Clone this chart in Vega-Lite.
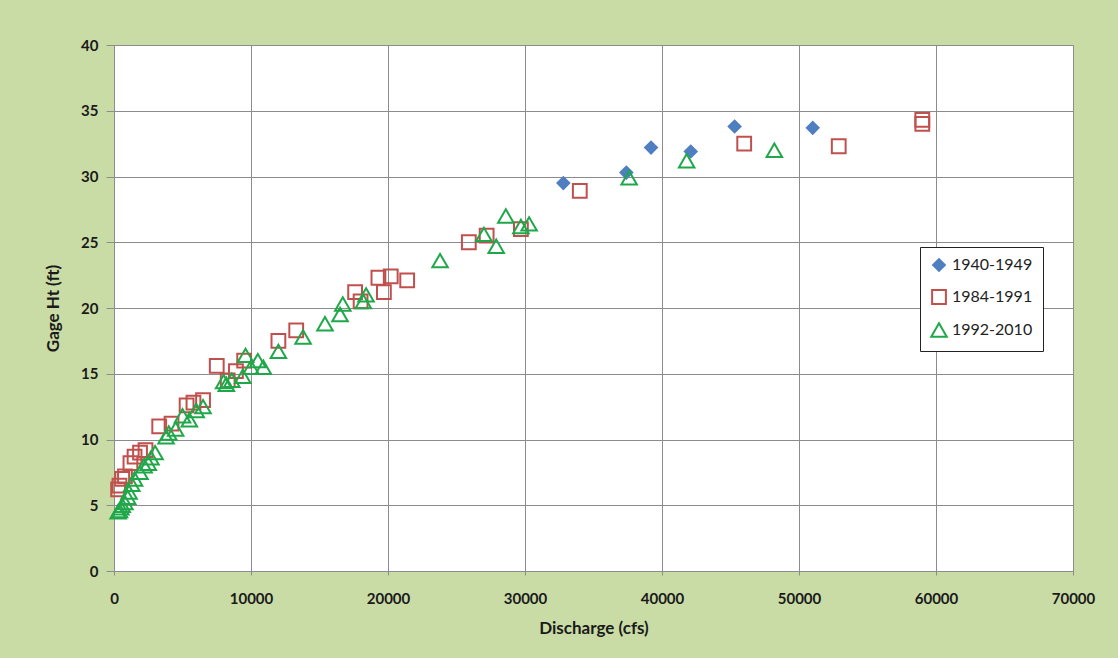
{
  "$schema": "https://vega.github.io/schema/vega-lite/v6.json",
  "width": 959,
  "height": 526,
  "autosize": "none",
  "padding": {"left": 114, "top": 45, "right": 45, "bottom": 87},
  "background": "#cadca6",
  "config": {
    "view": {"fill": "#ffffff", "stroke": "#8c8c8c", "strokeWidth": 1},
    "font": "Lato",
    "legend": {
      "orient": "none", "legendX": 806, "legendY": 202,
      "fillColor": "#ffffff", "strokeColor": "#222222", "padding": 10,
      "labelFont": "Lato", "labelFontSize": 16, "labelColor": "#222222",
      "symbolStrokeWidth": 2, "rowPadding": 11, "labelOffset": 4
    }
  },
  "data": {
    "values": [
      {"period": "1940-1949", "q": 32800, "h": 29.5},
      {"period": "1940-1949", "q": 37400, "h": 30.3},
      {"period": "1940-1949", "q": 39200, "h": 32.2},
      {"period": "1940-1949", "q": 42100, "h": 31.9},
      {"period": "1940-1949", "q": 45300, "h": 33.8},
      {"period": "1940-1949", "q": 51000, "h": 33.7},
      {"period": "1984-1991", "q": 59000, "h": 34.3},
      {"period": "1984-1991", "q": 59000, "h": 34.0},
      {"period": "1984-1991", "q": 52900, "h": 32.3},
      {"period": "1984-1991", "q": 46000, "h": 32.5},
      {"period": "1984-1991", "q": 34000, "h": 28.9},
      {"period": "1984-1991", "q": 29700, "h": 26.0},
      {"period": "1984-1991", "q": 27200, "h": 25.5},
      {"period": "1984-1991", "q": 25900, "h": 25.0},
      {"period": "1984-1991", "q": 21400, "h": 22.1},
      {"period": "1984-1991", "q": 20200, "h": 22.4},
      {"period": "1984-1991", "q": 19300, "h": 22.3},
      {"period": "1984-1991", "q": 19700, "h": 21.2},
      {"period": "1984-1991", "q": 17600, "h": 21.2},
      {"period": "1984-1991", "q": 18000, "h": 20.5},
      {"period": "1984-1991", "q": 13300, "h": 18.3},
      {"period": "1984-1991", "q": 12000, "h": 17.5},
      {"period": "1984-1991", "q": 9500, "h": 16.0},
      {"period": "1984-1991", "q": 8900, "h": 15.2},
      {"period": "1984-1991", "q": 7500, "h": 15.6},
      {"period": "1984-1991", "q": 8300, "h": 14.5},
      {"period": "1984-1991", "q": 6500, "h": 13.0},
      {"period": "1984-1991", "q": 5800, "h": 12.8},
      {"period": "1984-1991", "q": 5300, "h": 12.6},
      {"period": "1984-1991", "q": 4200, "h": 11.2},
      {"period": "1984-1991", "q": 3300, "h": 11.0},
      {"period": "1984-1991", "q": 2300, "h": 9.2},
      {"period": "1984-1991", "q": 1900, "h": 9.0},
      {"period": "1984-1991", "q": 1500, "h": 8.7},
      {"period": "1984-1991", "q": 1200, "h": 8.2},
      {"period": "1984-1991", "q": 800, "h": 7.2},
      {"period": "1984-1991", "q": 600, "h": 7.0},
      {"period": "1984-1991", "q": 400, "h": 6.5},
      {"period": "1984-1991", "q": 300, "h": 6.2},
      {"period": "1992-2010", "q": 48200, "h": 32.0},
      {"period": "1992-2010", "q": 41800, "h": 31.2},
      {"period": "1992-2010", "q": 37600, "h": 29.9},
      {"period": "1992-2010", "q": 30300, "h": 26.4},
      {"period": "1992-2010", "q": 29700, "h": 26.2},
      {"period": "1992-2010", "q": 28600, "h": 27.0},
      {"period": "1992-2010", "q": 27900, "h": 24.7},
      {"period": "1992-2010", "q": 27000, "h": 25.6},
      {"period": "1992-2010", "q": 23800, "h": 23.6},
      {"period": "1992-2010", "q": 18400, "h": 21.0},
      {"period": "1992-2010", "q": 18200, "h": 20.5},
      {"period": "1992-2010", "q": 16700, "h": 20.3},
      {"period": "1992-2010", "q": 16500, "h": 19.5},
      {"period": "1992-2010", "q": 15400, "h": 18.8},
      {"period": "1992-2010", "q": 13800, "h": 17.8},
      {"period": "1992-2010", "q": 12000, "h": 16.7},
      {"period": "1992-2010", "q": 10900, "h": 15.5},
      {"period": "1992-2010", "q": 10500, "h": 16.0},
      {"period": "1992-2010", "q": 10000, "h": 15.5},
      {"period": "1992-2010", "q": 9600, "h": 16.4},
      {"period": "1992-2010", "q": 9400, "h": 14.8},
      {"period": "1992-2010", "q": 8600, "h": 14.5},
      {"period": "1992-2010", "q": 8200, "h": 14.2},
      {"period": "1992-2010", "q": 8000, "h": 14.4},
      {"period": "1992-2010", "q": 6500, "h": 12.5},
      {"period": "1992-2010", "q": 6000, "h": 12.2},
      {"period": "1992-2010", "q": 5500, "h": 11.5},
      {"period": "1992-2010", "q": 5000, "h": 11.8},
      {"period": "1992-2010", "q": 4500, "h": 10.8},
      {"period": "1992-2010", "q": 4000, "h": 10.5},
      {"period": "1992-2010", "q": 3800, "h": 10.2},
      {"period": "1992-2010", "q": 3000, "h": 9.0},
      {"period": "1992-2010", "q": 2700, "h": 8.6},
      {"period": "1992-2010", "q": 2500, "h": 8.2},
      {"period": "1992-2010", "q": 2200, "h": 8.0},
      {"period": "1992-2010", "q": 1900, "h": 7.5},
      {"period": "1992-2010", "q": 1500, "h": 7.0},
      {"period": "1992-2010", "q": 1300, "h": 6.6},
      {"period": "1992-2010", "q": 1100, "h": 6.0},
      {"period": "1992-2010", "q": 1000, "h": 5.6},
      {"period": "1992-2010", "q": 800, "h": 5.2},
      {"period": "1992-2010", "q": 600, "h": 5.0},
      {"period": "1992-2010", "q": 500, "h": 4.8},
      {"period": "1992-2010", "q": 400, "h": 4.6},
      {"period": "1992-2010", "q": 300, "h": 4.5}
    ]
  },
  "mark": {"type": "point", "strokeWidth": 2, "opacity": 1},
  "encoding": {
    "x": {
      "field": "q", "type": "quantitative",
      "scale": {"domain": [0, 70000], "nice": false},
      "axis": {
        "title": "Discharge (cfs)", "values": [0, 10000, 20000, 30000, 40000, 50000, 60000, 70000],
        "format": "d", "grid": true, "gridColor": "#8c8c8c", "gridWidth": 1,
        "domain": false, "ticks": true, "tickSize": 4, "tickColor": "#8c8c8c",
        "labelFont": "Lato", "labelFontWeight": "bold", "labelFontSize": 15, "labelColor": "#1a1a1a",
        "labelPadding": 16, "labelFlush": false,
        "titleFont": "Lato", "titleFontWeight": "bold", "titleFontSize": 17, "titleColor": "#1a1a1a",
        "titlePadding": 14
      }
    },
    "y": {
      "field": "h", "type": "quantitative",
      "scale": {"domain": [0, 40], "nice": false},
      "axis": {
        "title": "Gage Ht (ft)", "values": [0, 5, 10, 15, 20, 25, 30, 35, 40],
        "grid": true, "gridColor": "#8c8c8c", "gridWidth": 1,
        "domain": false, "ticks": true, "tickSize": 8, "tickColor": "#8c8c8c",
        "labelFont": "Lato", "labelFontWeight": "bold", "labelFontSize": 15, "labelColor": "#1a1a1a",
        "labelPadding": 8, "labelFlush": false,
        "titleFont": "Lato", "titleFontWeight": "bold", "titleFontSize": 17, "titleColor": "#1a1a1a",
        "titlePadding": 18
      }
    },
    "shape": {
      "field": "period", "type": "ordinal", "title": null,
      "scale": {"domain": ["1940-1949", "1984-1991", "1992-2010"], "range": ["diamond", "square", "triangle-up"]}
    },
    "stroke": {
      "field": "period", "type": "ordinal", "title": null,
      "scale": {"domain": ["1940-1949", "1984-1991", "1992-2010"], "range": ["#4f7fc0", "#c0504d", "#1fa84a"]}
    },
    "fill": {
      "field": "period", "type": "ordinal", "title": null,
      "scale": {"domain": ["1940-1949", "1984-1991", "1992-2010"], "range": ["#4f7fc0", "transparent", "transparent"]}
    },
    "size": {
      "field": "period", "type": "ordinal", "title": null,
      "scale": {"domain": ["1940-1949", "1984-1991", "1992-2010"], "range": [140, 240, 220]}
    }
  }
}
